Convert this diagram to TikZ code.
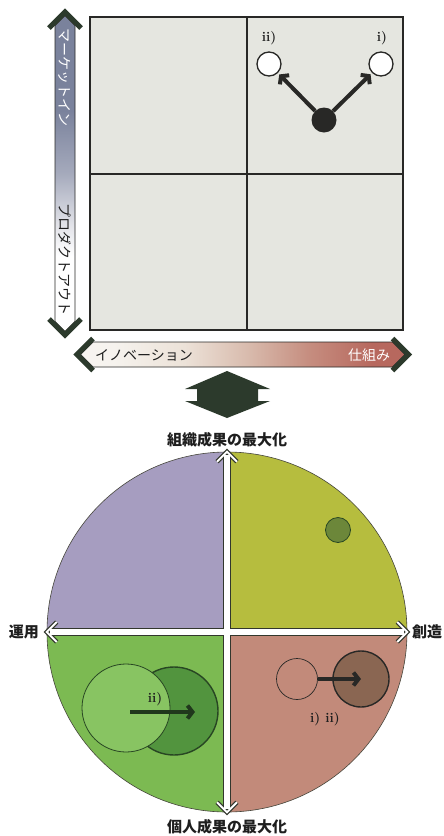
\documentclass[tikz,border=0pt]{standalone}
\usepackage{fontspec}
\newfontfamily\jp{Noto Sans CJK JP}
\usetikzlibrary{arrows.meta}
\definecolor{gridbg}{RGB}{229,230,224}
\definecolor{linedk}{RGB}{40,40,38}
\definecolor{dkgreen}{RGB}{44,58,44}
\definecolor{qTL}{RGB}{166,157,192}
\definecolor{qTR}{RGB}{182,189,62}
\definecolor{qBL}{RGB}{124,186,82}
\definecolor{qBR}{RGB}{194,138,122}
\definecolor{circline}{RGB}{70,70,60}
\definecolor{crossdk}{RGB}{50,55,45}
\definecolor{olivedk}{RGB}{108,135,58}
\definecolor{gdark}{RGB}{82,148,62}
\definecolor{glight}{RGB}{136,196,98}
\definecolor{gline}{RGB}{40,70,35}
\definecolor{brdark}{RGB}{138,102,82}
\definecolor{txtdk}{RGB}{30,30,30}
\definecolor{shA}{RGB}{225,226,232}
\definecolor{shB}{RGB}{165,170,188}
\definecolor{shC}{RGB}{122,130,156}
\definecolor{hsA}{RGB}{246,243,238}
\definecolor{hsB}{RGB}{236,226,216}
\definecolor{hsC}{RGB}{216,186,172}
\definecolor{hsD}{RGB}{198,142,128}
\definecolor{hsE}{RGB}{183,104,94}
\pgfdeclareverticalshading{vshaft}{100bp}{color(0bp)=(white); color(37bp)=(white); color(42bp)=(shA); color(50bp)=(shB); color(60bp)=(shC); color(100bp)=(shC)}
\pgfdeclarehorizontalshading{hshaft}{100bp}{color(0bp)=(white); color(30bp)=(hsA); color(41bp)=(hsB); color(51bp)=(hsC); color(60bp)=(hsD); color(70bp)=(hsE); color(100bp)=(hsE)}
\begin{document}
\begin{tikzpicture}[x=1pt,y=-1pt,
  chev/.style={draw=dkgreen, line width=5pt, miter limit=10},
  kata/.style={font=\jp\fontsize{14}{14}\selectfont, inner sep=0pt},
  lbl/.style={font=\jp\bfseries\fontsize{15}{15}\selectfont, text=txtdk, inner sep=0pt},
  num/.style={font=\bfseries\fontsize{13.5}{13.5}\selectfont, text=txtdk, inner sep=0pt},
  arr/.style={line width=4pt, draw=linedk, -{Straight Barb[length=5pt,width=13pt]}},
  xdk/.style={draw=crossdk, line width=8pt},
  xwh/.style={draw=white, line width=5.5pt},
  xcdk/.style={draw=crossdk, line width=4.5pt, miter limit=10},
  xcwh/.style={draw=white, line width=2pt, miter limit=10},
  dot/.style={circle, inner sep=0pt}]
\useasboundingbox (0,0) rectangle (444,836);
\fill[white] (0,0) rectangle (444,836);

% top matrix
\draw[fill=gridbg, draw=linedk, line width=1.4pt] (90,17) rectangle (403,330);
\draw[linedk, line width=1.4pt] (247,17) -- (247,330) (90,174) -- (403,174);

% vertical axis arrow
\shadedraw[shading=vshaft, draw=linedk, line width=0.8pt] (55,321.5) -- (55,25.5) -- (65,15.5) -- (75,25.5) -- (75,321.5) -- (65,331.5) -- cycle;
\draw[chev] (49,28) -- (65,12) -- (81,28);
\draw[chev] (49,319) -- (65,335) -- (81,319);
\node[kata, rotate=-90, text=white] (mkt) at (65,77) {マーケットイン};
\node[kata, rotate=-90, text=txtdk] (prd) at (65,259) {プロダクトアウト};

% horizontal axis arrow
\shadedraw[shading=hshaft, draw=linedk, line width=0.8pt] (80.5,354.5) -- (93,342) -- (392.5,342) -- (405,354.5) -- (392.5,367) -- (93,367) -- cycle;
\draw[chev] (93,338.5) -- (77,354.5) -- (93,370.5);
\draw[chev] (392.5,338.5) -- (408.5,354.5) -- (392.5,370.5);
\node[kata, text=txtdk] (inno) at (144,355) {イノベーション};
\node[kata, text=white] (shik) at (369,355) {仕組み};

% top matrix circles
\node[dot, minimum size=24pt, fill=white, draw=linedk, line width=1.3pt] (t2) at (269,64) {};
\node[dot, minimum size=24pt, fill=white, draw=linedk, line width=1.3pt] (t1) at (381,64) {};
\node[dot, minimum size=25pt, fill=linedk] (td) at (324,120) {};
\draw[arr, shorten >=2pt] (td) -- (t2);
\draw[arr, shorten >=2pt] (td) -- (t1);
\node[num] (l2) at (269,38) {ii)};
\node[num] (l1) at (382,38) {i)};

% double arrow block
\fill[dkgreen] (227,371) -- (270,389) -- (258,389) -- (258,401) -- (270,401) -- (227,418) -- (185,401) -- (197,401) -- (197,389) -- (185,389) -- cycle;

% circle quadrants
\begin{scope}
\clip (227,632) circle (180pt);
\fill[qTL] (40,445) rectangle (227,632);
\fill[qTR] (227,445) rectangle (414,632);
\fill[qBL] (40,632) rectangle (227,820);
\fill[qBR] (227,632) rectangle (414,820);
\end{scope}
\node[dot, minimum size=360pt, draw=circline, line width=0.6pt] (big) at (227,632) {};

% cross arrows
\draw[xdk, shorten <=3pt, shorten >=3pt] (big.north) -- (big.south);
\draw[xdk, shorten <=3pt, shorten >=3pt] (big.west) -- (big.east);
\draw[xcdk] ([shift={(-10,10)}]big.north) -- (big.north) -- ([shift={(10,10)}]big.north);
\draw[xcdk] ([shift={(-10,-10)}]big.south) -- (big.south) -- ([shift={(10,-10)}]big.south);
\draw[xcdk] ([shift={(10,-10)}]big.west) -- (big.west) -- ([shift={(10,10)}]big.west);
\draw[xcdk] ([shift={(-10,-10)}]big.east) -- (big.east) -- ([shift={(-10,10)}]big.east);
\draw[xwh, shorten <=3pt, shorten >=3pt] (big.north) -- (big.south);
\draw[xwh, shorten <=3pt, shorten >=3pt] (big.west) -- (big.east);
\draw[xcwh] ([shift={(-10,10)}]big.north) -- (big.north) -- ([shift={(10,10)}]big.north);
\draw[xcwh] ([shift={(-10,-10)}]big.south) -- (big.south) -- ([shift={(10,-10)}]big.south);
\draw[xcwh] ([shift={(10,-10)}]big.west) -- (big.west) -- ([shift={(10,10)}]big.west);
\draw[xcwh] ([shift={(-10,-10)}]big.east) -- (big.east) -- ([shift={(-10,10)}]big.east);

% labels
\node[lbl] (ltop) at (227,440) {組織成果の最大化};
\node[lbl] (lbot) at (227,827) {個人成果の最大化};
\node[lbl] (lleft) at (24,632) {運用};
\node[lbl] (lright) at (427,632) {創造};

% top-right quadrant circle
\node[dot, minimum size=25pt, fill=olivedk, draw=gline, line width=0.8pt] (trc) at (338,530) {};

% bottom-left circles
\node[dot, minimum size=88pt, fill=gdark, draw=gline, line width=1.4pt] (bld) at (174,711) {};
\node[dot, minimum size=88pt, fill=glight, draw=gline, line width=0.8pt] (bll) at (126,708) {};
\coordinate (blA) at (130,712);
\coordinate (blB) at (195,712);
\draw[arr, draw=gline!80!black] (blA) -- (blB);
\node[num] (lii) at (155,699) {ii)};

% bottom-right circles
\node[dot, minimum size=41pt, draw=linedk, line width=0.7pt] (bro) at (297,679) {};
\node[dot, minimum size=56pt, fill=brdark, draw=linedk, line width=1.4pt] (brd) at (361,679) {};
\draw[arr] (bro.east) -- (brd.center);
\node[num] (liii) at (325,719) {i)\ ii)};
\end{tikzpicture}
\end{document}
